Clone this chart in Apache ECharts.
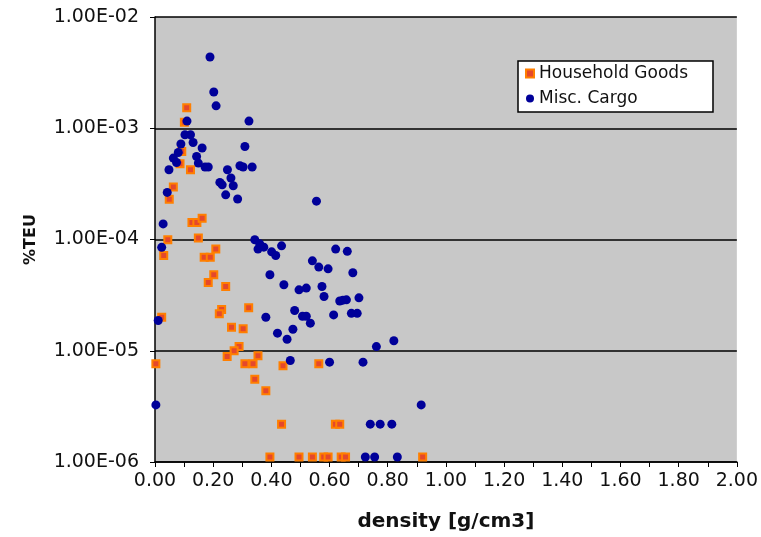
<!DOCTYPE html>
<html>
<head>
<meta charset="utf-8">
<script src="https://cdn.jsdelivr.net/npm/echarts@6/dist/echarts.min.js"></script>
<style>
  html, body { margin: 0; padding: 0; background: #fff; }
  #main { width: 761px; height: 537px; }
</style>
</head>
<body>
<div id="main"></div>
<script>
// Household Goods: density [g/cm3] and %TEU
const householdDensity = [0.109, 0.101, 0.092, 0.086, 0.122, 0.063, 0.049, 0.127, 0.144, 0.162,
  0.044, 0.149, 0.209, 0.169, 0.190, 0.030, 0.202, 0.183, 0.243, 0.229,
  0.221, 0.322, 0.023, 0.263, 0.303, 0.289, 0.272, 0.248, 0.354, 0.309,
  0.337, 0.003, 0.440, 0.563, 0.343, 0.381, 0.435, 0.620, 0.635, 0.395,
  0.495, 0.541, 0.580, 0.595, 0.640, 0.655, 0.920];
const householdTeu = [1.53e-3, 1.13e-3, 6.18e-4, 4.80e-4, 4.24e-4, 2.96e-4, 2.30e-4, 1.42e-4, 1.42e-4, 1.55e-4,
  9.94e-5, 1.03e-4, 8.20e-5, 6.92e-5, 6.92e-5, 7.18e-5, 4.82e-5, 4.10e-5, 3.78e-5, 2.35e-5,
  2.15e-5, 2.43e-5, 2.00e-5, 1.63e-5, 1.58e-5, 1.09e-5, 1.00e-5, 8.90e-6, 9.00e-6, 7.63e-6,
  7.63e-6, 7.63e-6, 7.32e-6, 7.63e-6, 5.55e-6, 4.36e-6, 2.19e-6, 2.19e-6, 2.19e-6, 1.11e-6,
  1.11e-6, 1.11e-6, 1.11e-6, 1.11e-6, 1.11e-6, 1.11e-6, 1.11e-6];

// Misc. Cargo
const cargoDensity = [0.189, 0.202, 0.210, 0.110, 0.323, 0.103, 0.122, 0.089, 0.131, 0.162,
  0.309, 0.080, 0.063, 0.143, 0.074, 0.149, 0.172, 0.183, 0.048, 0.292,
  0.303, 0.334, 0.249, 0.261, 0.223, 0.231, 0.269, 0.042, 0.243, 0.284,
  0.555, 0.028, 0.023, 0.343, 0.360, 0.354, 0.374, 0.401, 0.415, 0.435,
  0.621, 0.661, 0.541, 0.563, 0.595, 0.680, 0.395, 0.443, 0.495, 0.520,
  0.574, 0.581, 0.635, 0.646, 0.658, 0.701, 0.480, 0.507, 0.520, 0.534,
  0.614, 0.675, 0.695, 0.381, 0.011, 0.421, 0.474, 0.454, 0.761, 0.821,
  0.465, 0.600, 0.715, 0.915, 0.003, 0.740, 0.774, 0.814, 0.723, 0.755,
  0.833];
const cargoTeu = [4.37e-3, 2.12e-3, 1.59e-3, 1.16e-3, 1.16e-3, 8.75e-4, 8.75e-4, 7.21e-4, 7.45e-4, 6.64e-4,
  6.86e-4, 6.05e-4, 5.39e-4, 5.57e-4, 4.92e-4, 4.86e-4, 4.48e-4, 4.48e-4, 4.24e-4, 4.60e-4,
  4.48e-4, 4.48e-4, 4.24e-4, 3.57e-4, 3.26e-4, 3.10e-4, 3.04e-4, 2.65e-4, 2.52e-4, 2.31e-4,
  2.21e-4, 1.38e-4, 8.50e-5, 9.94e-5, 9.14e-5, 8.20e-5, 8.54e-5, 7.75e-5, 7.18e-5, 8.77e-5,
  8.20e-5, 7.83e-5, 6.43e-5, 5.65e-5, 5.45e-5, 5.02e-5, 4.82e-5, 3.92e-5, 3.53e-5, 3.66e-5,
  3.78e-5, 3.07e-5, 2.80e-5, 2.85e-5, 2.87e-5, 2.99e-5, 2.30e-5, 2.04e-5, 2.04e-5, 1.77e-5,
  2.10e-5, 2.17e-5, 2.17e-5, 2.00e-5, 1.87e-5, 1.44e-5, 1.56e-5, 1.27e-5, 1.09e-5, 1.23e-5,
  8.17e-6, 7.90e-6, 7.90e-6, 3.26e-6, 3.26e-6, 2.19e-6, 2.19e-6, 2.19e-6, 1.11e-6, 1.11e-6,
  1.11e-6];

const seriesNames = ['Household Goods', 'Misc. Cargo'];

const pairs = (xs, ys) => xs.map((x, i) => [x, ys[i]]);

// Excel style 1.00E-02
const sci = (v) => {
  const e = Math.round(Math.log10(v));
  const m = (v / Math.pow(10, e)).toFixed(2);
  return m + 'E' + (e < 0 ? '-' : '+') + String(Math.abs(e)).padStart(2, '0');
};

const font = 'DejaVu Sans, Verdana, sans-serif';
const chart = echarts.init(document.getElementById('main'));

const options = {
  animation: false,
  textStyle: { fontFamily: font },
  grid: {
    left: 155,
    right: 21,
    top: 17,
    bottom: 75,
    show: true,
    backgroundColor: '#c8c8c8',
    borderWidth: 0,
  },
  legend: {
    orient: 'vertical',
    left: 518,
    top: 61,
    padding: [4, 25, 5, 7],
    itemGap: 8,
    itemWidth: 8,
    itemHeight: 8,
    backgroundColor: '#fff',
    borderColor: '#000',
    borderWidth: 1.5,
    borderRadius: 0,
    textStyle: { fontSize: 17, color: '#111', fontFamily: font },
    data: [
      { name: seriesNames[0], icon: 'rect' },
      { name: seriesNames[1], icon: 'circle' },
    ],
  },
  xAxis: {
    type: 'value',
    min: 0,
    max: 2,
    interval: 0.2,
    name: 'density [g/cm3]',
    nameLocation: 'middle',
    nameGap: 50,
    nameTextStyle: { fontSize: 20, fontWeight: 'bold', color: '#111' },
    axisLine: { show: true, lineStyle: { color: '#000', width: 1.5 } },
    axisTick: { show: true, inside: false, length: 5, lineStyle: { color: '#000' } },
    minorTick: { show: true, splitNumber: 2, length: 5, lineStyle: { color: '#000' } },
    axisLabel: { fontSize: 19, color: '#111', margin: 10, formatter: (v) => v.toFixed(2) },
    splitLine: { show: false },
  },
  yAxis: {
    type: 'log',
    logBase: 10,
    min: 1e-6,
    max: 1e-2,
    name: '%TEU',
    nameLocation: 'middle',
    nameRotate: 90,
    nameGap: 116,
    nameTextStyle: { fontSize: 16, fontWeight: 'bold', color: '#111' },
    axisLine: { show: true, lineStyle: { color: '#000', width: 1.5 } },
    axisTick: { show: true, inside: false, length: 5, lineStyle: { color: '#000' } },
    axisLabel: { fontSize: 19, color: '#111', margin: 16, formatter: sci },
    splitLine: {
      show: true,
      showMaxLine: false,
      lineStyle: { color: '#000', width: 1.5 },
    },
  },
  series: [
    {
      name: seriesNames[0],
      type: 'scatter',
      symbol: 'rect',
      symbolSize: 7,
      itemStyle: { color: '#e4482c', borderColor: '#ff7f00', borderWidth: 2, opacity: 1 },
      data: pairs(householdDensity, householdTeu),
    },
    {
      name: seriesNames[1],
      type: 'scatter',
      symbol: 'circle',
      symbolSize: 9,
      itemStyle: { color: '#000099', opacity: 1 },
      data: pairs(cargoDensity, cargoTeu),
    },
  ],
};

chart.setOption(options);
</script>
</body>
</html>
